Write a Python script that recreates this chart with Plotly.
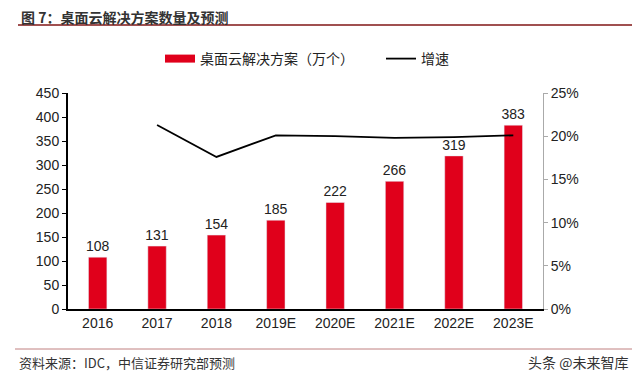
import plotly.graph_objects as go

categories = ["2016", "2017", "2018", "2019E", "2020E", "2021E", "2022E", "2023E"]
solutions = [108, 131, 154, 185, 222, 266, 319, 383]
growth_cats = ["2017", "2018", "2019E", "2020E", "2021E", "2022E", "2023E"]
growth = [0.213, 0.176, 0.201, 0.200, 0.198, 0.199, 0.201]

RED = "#E0001B"
FONT = "Liberation Sans, Noto Sans CJK SC, sans-serif"
CJK = "Noto Sans CJK SC, Liberation Sans, sans-serif"

fig = go.Figure()
fig.add_trace(go.Bar(
    x=categories, y=solutions, name="桌面云解决方案（万个）", showlegend=False,
    marker=dict(color=RED), width=0.31,
    text=[str(v) for v in solutions], textposition="outside", constraintext="none",
    textfont=dict(size=14, color="#222", family=FONT), cliponaxis=False,
))
fig.add_trace(go.Scatter(
    x=[None], y=[None], name="桌面云解决方案（万个）", mode="lines",
    line=dict(color=RED, width=8), legend="legend",
))
fig.add_trace(go.Scatter(
    x=growth_cats, y=growth, name="增速", yaxis="y2", mode="lines",
    line=dict(color="black", width=1.8), legend="legend2",
))

PH = 216.0
fig.update_layout(
    width=632, height=378,
    margin=dict(l=60, r=97, t=85, b=77, autoexpand=False),
    paper_bgcolor="white", plot_bgcolor="white",
    font=dict(family=FONT, size=14, color="#222"),
    showlegend=True,
    legend=dict(x=(160 - 68) / 475, xanchor="left", y=1 + (93 - 59) / PH, yanchor="middle",
                font=dict(family=CJK, size=14, color="#222"), bgcolor="rgba(0,0,0,0)"),
    legend2=dict(x=(381 - 68) / 475, xanchor="left", y=1 + (93 - 59) / PH, yanchor="middle",
                 font=dict(family=CJK, size=14, color="#222"), bgcolor="rgba(0,0,0,0)"),
    xaxis=dict(type="category", range=[-0.5, 7.5], showline=True, linecolor="black",
               linewidth=2, ticks="", tickfont=dict(size=14), showgrid=False,
               automargin=False),
    yaxis=dict(range=[0, 450], dtick=50, showline=True, linecolor="black", linewidth=2,
               ticks="outside", ticklen=4, tickcolor="black", showgrid=False,
               zeroline=False, tickfont=dict(size=14), automargin=False),
    yaxis2=dict(range=[0, 0.25], dtick=0.05, tickformat=".0%", overlaying="y", side="right",
                showline=True, linecolor="#aaa", linewidth=1, ticks="outside", ticklen=4,
                tickcolor="#aaa", showgrid=False, zeroline=False, tickfont=dict(size=14),
                automargin=False),
)

fig.add_annotation(text="<b>图 7：桌面云解决方案数量及预测</b>", xref="paper", yref="paper",
                   x=(20 - 68) / 475, y=1 + (93 - 8) / PH, xanchor="left", yanchor="top",
                   height=16, valign="middle", borderpad=0,
                   font=dict(family=CJK, size=14, color="#333"), showarrow=False)
fig.add_shape(type="line", xref="paper", yref="paper", x0=(18 - 68) / 475, x1=1.3,
              y0=1 + (93 - 25) / PH, y1=1 + (93 - 25) / PH,
              line=dict(color="#A05050", width=2))
fig.add_shape(type="line", xref="paper", yref="paper", x0=(15 - 68) / 475, x1=1.3,
              y0=-(349 - 309) / PH, y1=-(349 - 309) / PH,
              line=dict(color="#C08080", width=1))
fig.add_annotation(text="资料来源：IDC，中信证券研究部预测", xref="paper", yref="paper",
                   x=(17 - 68) / 475, y=-(362 - 309) / PH, xanchor="left", yanchor="middle",
                   font=dict(family=CJK, size=13, color="#333"), showarrow=False)
fig.add_annotation(text="头条 @未来智库", xref="paper", yref="paper",
                   x=(630 - 68) / 475, y=-(362 - 309) / PH, xanchor="right", yanchor="middle",
                   font=dict(family=CJK, size=14, color="#333"), showarrow=False)

fig.write_html("out.html")
